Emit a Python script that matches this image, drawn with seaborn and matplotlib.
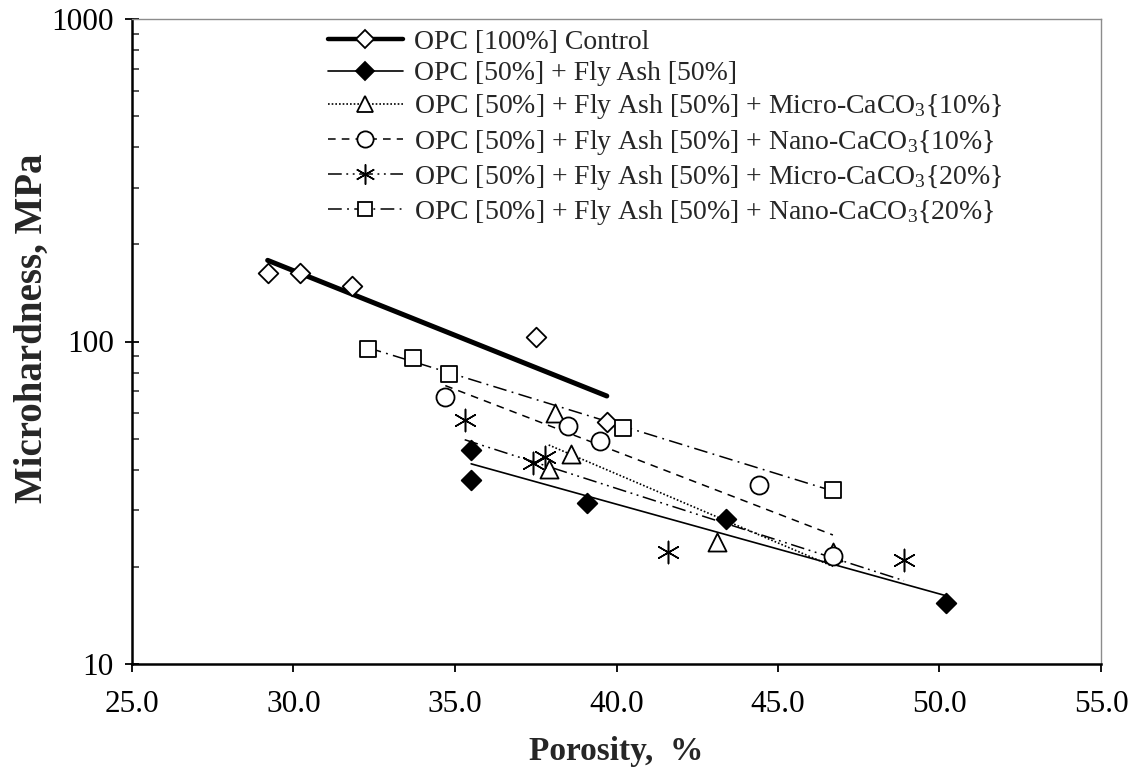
import numpy as np
import pandas as pd
import matplotlib
matplotlib.use("Agg")
import matplotlib.pyplot as plt
import seaborn as sns
from matplotlib.lines import Line2D
from matplotlib.ticker import FixedLocator, FixedFormatter, LogLocator, NullFormatter

# ---------------- data ----------------
labels = [
    "OPC [100%] Control",
    "OPC [50%] + Fly Ash [50%]",
    "OPC [50%] + Fly Ash [50%] + Micro-CaCO$_3${10%}",
    "OPC [50%] + Fly Ash [50%] + Nano-CaCO$_3${10%}",
    "OPC [50%] + Fly Ash [50%] + Micro-CaCO$_3${20%}",
    "OPC [50%] + Fly Ash [50%] + Nano-CaCO$_3${20%}",
]
control_x = [29.2, 30.2, 31.8, 37.5, 39.7]
control_y = [163, 163, 149, 103, 56.3]
flyash_x = [35.5, 35.5, 39.1, 43.4, 50.2]
flyash_y = [46.1, 37.2, 31.6, 28.2, 15.5]
micro10_x = [38.1, 38.6, 37.9, 43.1, 46.7]
micro10_y = [60.0, 44.8, 40.2, 23.9, 22.2]
nano10_x = [34.7, 38.5, 39.5, 44.4, 46.7]
nano10_y = [67.3, 54.7, 49.1, 35.9, 21.6]
micro20_x = [35.3, 37.4, 37.8, 41.6, 48.9]
micro20_y = [57.1, 42.0, 43.8, 22.2, 21.0]
nano20_x = [32.3, 33.7, 34.8, 40.2, 46.7]
nano20_y = [94.8, 88.9, 79.3, 53.9, 34.6]

x_ticks = [25.0, 30.0, 35.0, 40.0, 45.0, 50.0, 55.0]
x_tick_labels = ["25.0", "30.0", "35.0", "40.0", "45.0", "50.0", "55.0"]
y_ticks = [10, 100, 1000]
y_tick_labels = ["10", "100", "1000"]

series_x = [control_x, flyash_x, micro10_x, nano10_x, micro20_x, nano20_x]
series_y = [control_y, flyash_y, micro10_y, nano10_y, micro20_y, nano20_y]

# ---------------- styles ----------------
markers = ["D", "D", "^", "o", (6, 2, 0), "s"]
msizes = [10, 10, 13, 13, 16, 11]
mews = [1.3, 1.3, 1.3, 1.3, 1.1, 1.3]
filled = [False, True, False, False, False, False]
lws = [3.6, 1.2, 1.2, 1.1, 1.1, 1.1]
dashes = [None, None, (1, 1.2), (5, 4), (9, 3, 1.2, 3, 1.2, 3), (9, 3.5, 1.2, 3.5)]

sns.set_style("ticks")
plt.rcParams["font.family"] = ["Liberation Serif", "DejaVu Serif"]
plt.rcParams["mathtext.fontset"] = "custom"
plt.rcParams["mathtext.rm"] = "Liberation Serif"
plt.rcParams["mathtext.it"] = "Liberation Serif:italic"
plt.rcParams["mathtext.bf"] = "Liberation Serif:bold"

fig = plt.figure(figsize=(11.36, 7.77), dpi=100)
ax = fig.add_axes([132 / 1136, 1 - 664 / 777, 969 / 1136, 645 / 777])

handles = []
for i in range(6):
    xs = np.array(series_x[i], dtype=float)
    ys = np.array(series_y[i], dtype=float)
    # exponential trend line (fit of log y on x)
    b, a = np.polyfit(xs, np.log(ys), 1)
    xf = np.array([xs.min(), xs.max()])
    fit_df = pd.DataFrame({"x": xf, "y": np.exp(a + b * xf)})
    sns.lineplot(data=fit_df, x="x", y="y", ax=ax, color="black",
                 lw=lws[i], legend=False, zorder=2)
    ln = ax.lines[-1]
    if dashes[i] is not None:
        ln.set_dashes(dashes[i])
    df = pd.DataFrame({"x": xs, "y": ys})
    fc = "black" if filled[i] else "white"
    if markers[i] == (6, 2, 0):
        fc = "black"
    sns.scatterplot(data=df, x="x", y="y", ax=ax, marker=markers[i],
                    s=msizes[i] ** 2, facecolor=fc, edgecolor="black",
                    linewidth=mews[i], legend=False, zorder=3)
    h = Line2D([], [], color="black", lw=lws[i] if i > 0 else 3.2,
               marker=markers[i], ms=msizes[i] * 0.9,
               mfc=("black" if filled[i] else "white"), mec="black", mew=mews[i])
    if dashes[i] is not None:
        h.set_dashes(dashes[i])
    handles.append(h)

ax.set_yscale("log")
ax.set_xlim(25, 55)
ax.set_ylim(10, 1000)
ax.xaxis.set_major_locator(FixedLocator(x_ticks))
ax.xaxis.set_major_formatter(FixedFormatter(x_tick_labels))
ax.yaxis.set_major_locator(FixedLocator(y_ticks))
ax.yaxis.set_major_formatter(FixedFormatter(y_tick_labels))
ax.yaxis.set_minor_locator(LogLocator(base=10, subs=np.arange(2, 10)))
ax.yaxis.set_minor_formatter(NullFormatter())

ax.tick_params(axis="x", which="major", direction="out", length=6, width=1.3,
               labelsize=22.5, pad=13, colors="black")
ax.tick_params(axis="y", which="major", direction="inout", length=10, width=1.3,
               labelsize=22.5, pad=8, colors="black")
ax.tick_params(axis="y", which="minor", direction="in", length=5, width=1.1)

for s in ["left", "bottom"]:
    ax.spines[s].set_color("black")
    ax.spines[s].set_linewidth(1.8)
for s in ["top", "right"]:
    ax.spines[s].set_visible(True)
    ax.spines[s].set_color("#8c8c8c")
    ax.spines[s].set_linewidth(1.0)

ax.set_xlabel("Porosity,  %", fontsize=24, fontweight="bold")
ax.set_ylabel("Microhardness, MPa", fontsize=28, fontweight="bold")
ax.xaxis.set_label_coords(0.5, -0.112)
ax.yaxis.set_label_coords(-0.084, 0.52)

ax.legend(handles, labels, loc="upper left", bbox_to_anchor=(0.202, 0.984),
          frameon=False, fontsize=20, handlelength=2.7, handletextpad=0.4,
          labelspacing=0.22, borderaxespad=0, borderpad=0, numpoints=1)

fig.savefig("out.png", dpi=100)
